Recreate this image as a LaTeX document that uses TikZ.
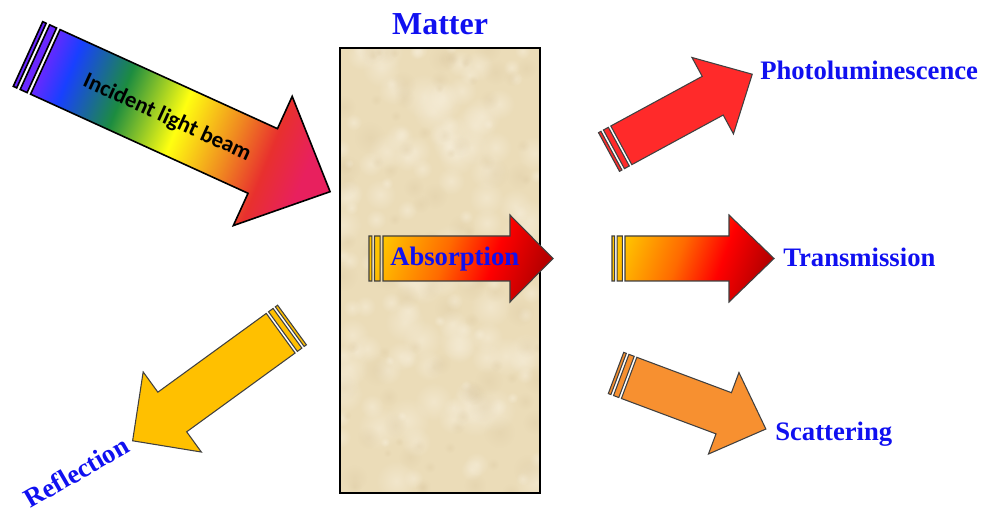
\documentclass[tikz,border=0pt]{standalone}
\usepackage{fontspec}
\setmainfont{Liberation Serif}
\newfontfamily\beamfont{Carlito}
\usetikzlibrary{fadings}

\definecolor{labelblue}{HTML}{1010F0}
\definecolor{edgegray}{HTML}{404040}
\definecolor{matterbase}{HTML}{EBDCB8}
\definecolor{matterlight}{HTML}{F6EDD8}
\definecolor{matterdark}{HTML}{D8C49C}
\definecolor{plred}{HTML}{FF2A2A}
\definecolor{reflgold}{HTML}{FFC000}
\definecolor{scatorange}{HTML}{F79030}
\definecolor{bviolet}{HTML}{6A28FF}
\definecolor{bblue}{HTML}{1840FF}
\definecolor{bgreen}{HTML}{1C8C40}
\definecolor{byellow}{HTML}{FFFF10}
\definecolor{borange}{HTML}{F08A20}
\definecolor{bred}{HTML}{E8302E}
\definecolor{bpink}{HTML}{E8205E}
\definecolor{hotyellow}{HTML}{FFC400}
\definecolor{hotorange}{HTML}{FF6A00}
\definecolor{hotred}{HTML}{FF0000}
\definecolor{hotdark}{HTML}{B80000}

% soft round spot for the mottled surface
\tikzfading[name=softspot, inner color=transparent!0, outer color=transparent!100]

% colour ramps along an arrow (the middle 50bp span the path)
\pgfdeclarehorizontalshading{rainbowbeam}{100bp}{%
  color(0bp)=(bviolet); color(25bp)=(bviolet); color(30bp)=(bblue);
  color(40bp)=(bgreen); color(51bp)=(byellow); color(61bp)=(borange);
  color(68bp)=(bred); color(75bp)=(bpink); color(100bp)=(bpink)}
\pgfdeclarehorizontalshading{hotbeam}{100bp}{%
  color(0bp)=(hotyellow); color(25bp)=(hotyellow); color(45bp)=(hotorange);
  color(60bp)=(hotred); color(75bp)=(hotdark); color(100bp)=(hotdark)}

% striped arrow pointing along +x, tail at the origin
% #1 length, #2 stripe depth, #3 shaft half width, #4 head half width, #5 head length
\newcommand\stripedarrowpath[5]{%
  (0,{-#3}) rectangle ({0.2*#2},{#3})
  ({0.4*#2},{-#3}) rectangle ({0.8*#2},{#3})
  ({#2},{-#3}) -- ({#1-#5},{-#3}) -- ({#1-#5},{-#4}) -- ({#1},0)
  -- ({#1-#5},{#4}) -- ({#1-#5},{#3}) -- ({#2},{#3}) -- cycle}

\tikzset{
  arrowedge/.style={draw=edgegray, line width=0.8pt, line join=miter},
  beamlabel/.style={text=labelblue, font=\bfseries\fontsize{20}{24}\selectfont, inner sep=0pt},
}

\begin{document}
\begin{tikzpicture}[x=0.75pt, y=-0.75pt]
\useasboundingbox (0,0) rectangle (985,513);

% block of matter with a mottled surface
\fill[matterbase] (340,48) rectangle (540,493);
\begin{scope}
  \clip (340,48) rectangle (540,493);
  \pgfmathsetseed{11}
  \foreach \i in {1,...,140} {
    \pgfmathsetmacro\px{340+200*rnd}
    \pgfmathsetmacro\py{48+445*rnd}
    \pgfmathsetmacro\pr{5+18*rnd}
    \fill[matterlight, opacity=0.6, path fading=softspot] (\px,\py) circle (\pr);
  }
  \foreach \i in {1,...,110} {
    \pgfmathsetmacro\px{340+200*rnd}
    \pgfmathsetmacro\py{48+445*rnd}
    \pgfmathsetmacro\pr{4+12*rnd}
    \fill[matterdark, opacity=0.25, path fading=softspot] (\px,\py) circle (\pr);
  }
\end{scope}
\draw[line width=1.6pt] (340,48) rectangle (540,493);
\node[beamlabel, font=\bfseries\fontsize{24}{28}\selectfont, anchor=base] (matter) at (440,35) {Matter};

% incident beam
\begin{scope}[shift={(28,54)}, rotate=-24.5]
  \shade[shading=rainbowbeam, shading angle=-22] \stripedarrowpath{332}{19}{35.5}{71}{74};
  \draw[line width=1.2pt, line join=miter] \stripedarrowpath{332}{19}{35.5}{71}{74};
\end{scope}
\node[font=\beamfont\bfseries\fontsize{17}{20}\selectfont, rotate=-24.5, inner sep=0pt]
  (incident) at (167,118) {Incident light beam};

% absorption inside the matter
\begin{scope}[shift={(369,258.5)}]
  \shade[shading=hotbeam, shading angle=-20] \stripedarrowpath{184}{14}{22.5}{43.5}{43};
  \draw[arrowedge] \stripedarrowpath{184}{14}{22.5}{43.5}{43};
\end{scope}
\node[beamlabel, anchor=base west] (absorption) at (390,266) {Absorption};

% photoluminescence
\begin{scope}[shift={(609,152)}, rotate=28.5]
  \fill[plred] \stripedarrowpath{163}{14}{22}{43.5}{45};
  \draw[arrowedge] \stripedarrowpath{163}{14}{22}{43.5}{45};
\end{scope}
\node[beamlabel, anchor=base west] (photo) at (760,80) {Photoluminescence};

% transmission
\begin{scope}[shift={(612,258.5)}]
  \shade[shading=hotbeam, shading angle=-20] \stripedarrowpath{162}{13}{22.5}{43.5}{45};
  \draw[arrowedge] \stripedarrowpath{162}{13}{22.5}{43.5}{45};
\end{scope}
\node[beamlabel, anchor=base west] (transmission) at (783,267) {Transmission};

% scattering
\begin{scope}[shift={(616,373)}, rotate=-20.5]
  \fill[scatorange] \stripedarrowpath{160}{14}{22}{43.5}{45};
  \draw[arrowedge] \stripedarrowpath{160}{14}{22}{43.5}{45};
\end{scope}
\node[beamlabel, anchor=base west] (scattering) at (775,440) {Scattering};

% reflection
\begin{scope}[shift={(292,325)}, rotate=216]
  \fill[reflgold] \stripedarrowpath{197}{14}{24.5}{49.5}{49};
  \draw[arrowedge] \stripedarrowpath{197}{14}{24.5}{49.5}{49};
\end{scope}
\node[beamlabel, anchor=base, rotate=30] (reflection) at (81,480) {Reflection};
\end{tikzpicture}
\end{document}
